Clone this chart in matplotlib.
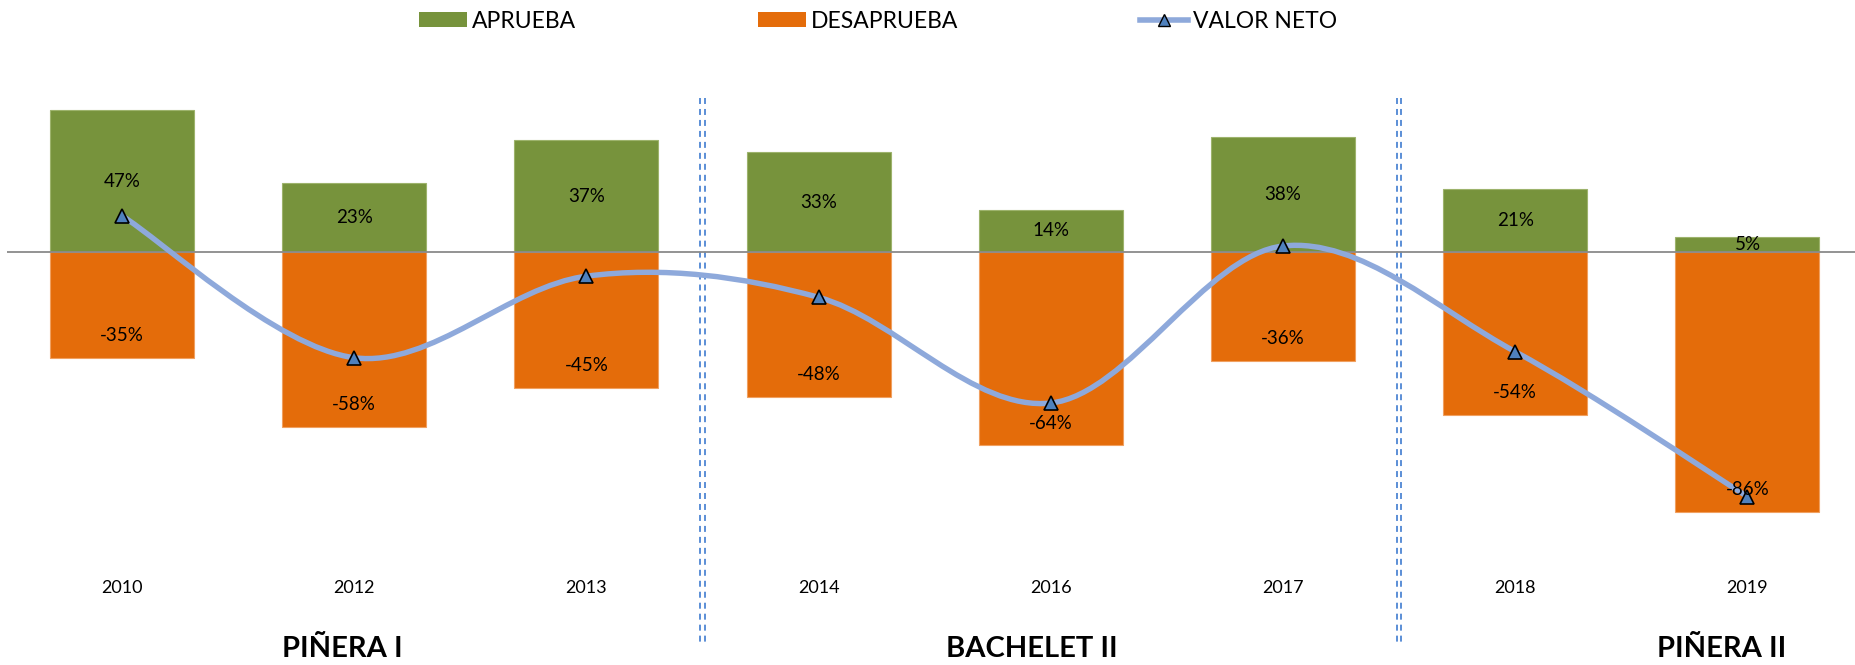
import numpy as np
import matplotlib
matplotlib.use('Agg')
import matplotlib.pyplot as plt
from matplotlib.path import Path
from matplotlib.patches import PathPatch, Patch
from matplotlib.lines import Line2D

plt.rcParams['font.family'] = ['Lato', 'DejaVu Sans']
plt.rcParams['lines.scale_dashes'] = False

# datos
years = ['2010', '2012', '2013', '2014', '2016', '2017', '2018', '2019']
aprueba = [47, 23, 37, 33, 14, 38, 21, 5]
desaprueba = [-35, -58, -45, -48, -64, -36, -54, -86]
neto = [12, -35, -8, -15, -50, 2, -33, -81]
periodos = ['PIÑERA I', 'BACHELET II', 'PIÑERA II']
periodo_x = [0.95, 3.92, 6.89]   # centro de cada texto (en categorias)
cortes = [2.5, 5.5]

verde = '#77933C'
naranjo = '#E46C0A'
azul_linea = '#8EA9DB'
azul_marca = '#4F81BD'

W, H = 1855, 665
fig = plt.figure(figsize=(W / 100, H / 100), dpi=100)
# area del grafico en pixeles: x 7..1855, y 60..570
ax = fig.add_axes([7 / W, 1 - 570 / H, 1 - 7 / W, (570 - 60) / H])

x = np.arange(len(years))
ax.bar(x, aprueba, width=0.62, color=verde, edgecolor='#9DB36C', linewidth=0.8, zorder=2)
ax.bar(x, desaprueba, width=0.62, color=naranjo, edgecolor='#F0A060', linewidth=0.8, zorder=2)
ax.axhline(0, color='#8A8A8A', lw=1.3, zorder=3)

# linea suavizada (bezier tipo catmull-rom, como excel)
pts = np.column_stack([x, neto]).astype(float)
ext = np.vstack([pts[0], pts, pts[-1]])
verts = [tuple(pts[0])]
codes = [Path.MOVETO]
for i in range(len(pts) - 1):
    p0, p1, p2, p3 = ext[i], ext[i + 1], ext[i + 2], ext[i + 3]
    c1 = p1 + (p2 - p0) / 6
    c2 = p2 - (p3 - p1) / 6
    verts += [tuple(c1), tuple(c2), tuple(p2)]
    codes += [Path.CURVE4] * 3
ax.add_patch(PathPatch(Path(verts, codes), fill=False, edgecolor=azul_linea,
                       lw=3.9, capstyle='round', zorder=4))
ax.plot(x, neto, ls='none', marker='^', ms=10, mfc=azul_marca, mec='black',
        mew=1.2, zorder=5)

# etiquetas
for i in range(len(years)):
    ax.text(x[i], aprueba[i] / 2, f'{aprueba[i]}%', ha='center', va='center',
            fontsize=13.5, zorder=6)
    ax.annotate(f'{desaprueba[i]}%', xy=(x[i], desaprueba[i]), xytext=(0, 16),
                textcoords='offset points', ha='center', va='center',
                fontsize=13.5, zorder=6)

# separadores de periodo (doble linea punteada)
for c in cortes:
    for dx in (-0.009, 0.009):
        ax.plot([c + dx, c + dx], [51, -129], color='#5B8ED6', lw=1.4,
                dashes=(4.3, 3.6), clip_on=False, zorder=1)

for nombre, px in zip(periodos, periodo_x):
    ax.text(px, -131.5, nombre, ha='center', va='center', fontsize=21,
            fontweight='bold', clip_on=False)

ax.set_xlim(-0.495, 7.463)
ax.set_ylim(-105.3, 63.6)
ax.set_xticks(x)
ax.set_xticklabels(years, fontsize=13)
ax.tick_params(axis='x', length=0, pad=7)
ax.set_yticks([])
for s in ax.spines.values():
    s.set_visible(False)

handles = [Patch(facecolor=verde, label='APRUEBA'),
           Patch(facecolor=naranjo, label='DESAPRUEBA'),
           Line2D([], [], color=azul_linea, lw=4, marker='^', ms=9,
                  mfc=azul_marca, mec='black', label='VALOR NETO')]
ax.legend(handles=handles, loc='center', bbox_to_anchor=(878 / W, 1 - 21 / H),
          bbox_transform=fig.transFigure, ncol=3, frameon=False, fontsize=16.5,
          handlelength=2.1, handleheight=0.62, handletextpad=0.2,
          columnspacing=7.95)

fig.savefig('out.png', dpi=100)
